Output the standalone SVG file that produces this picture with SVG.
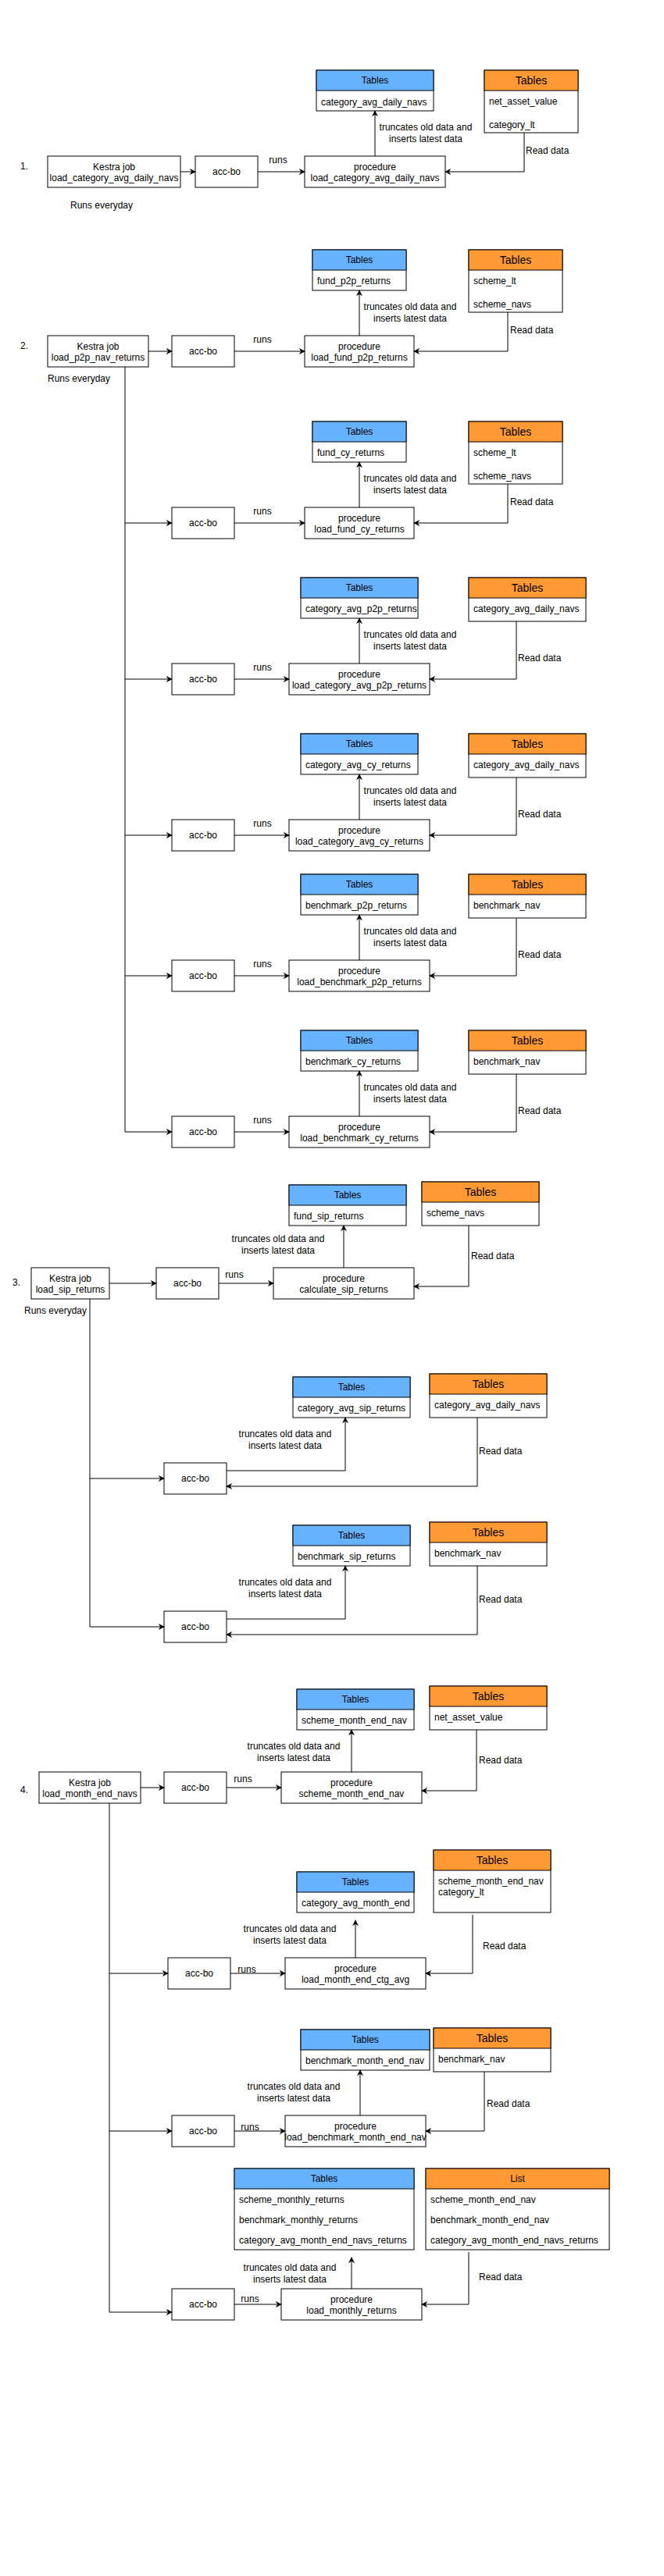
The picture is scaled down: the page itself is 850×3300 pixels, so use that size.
<svg xmlns="http://www.w3.org/2000/svg" width="850" height="3300" viewBox="0 0 850 3300">
<style>
text{font-family:"Liberation Sans",Arial,Helvetica,sans-serif;font-size:12px;fill:#000}
.c{text-anchor:middle}
.h14{font-size:14px}
.box{fill:#fff;stroke:#000;stroke-width:1}
.hb{fill:#66B2FF;stroke:#000;stroke-width:1}
.ho{fill:#FF9933;stroke:#000;stroke-width:1}
.e{fill:none;stroke:#000;stroke-width:1;marker-end:url(#a)}
.t{fill:none;stroke:#000;stroke-width:1}
</style>
<defs>
<marker id="a" viewBox="0 0 10 10" refX="9" refY="5" markerWidth="8" markerHeight="8" orient="auto" markerUnits="userSpaceOnUse"><path d="M0,0 L10,5 L0,10 L3,5 z" fill="#000"/></marker>
<clipPath id="cp1"><rect x="385" y="766" width="150" height="26"/></clipPath>
<clipPath id="cp2"><rect x="380" y="2424" width="150" height="26"/></clipPath>
</defs>
<rect width="850" height="3300" fill="#fff"/>

<g id="labels">
<text x="26" y="217">1.</text>
<text x="130" y="267" class="c">Runs everyday</text>
<text x="26" y="447">2.</text>
<text x="61" y="489">Runs everyday</text>
<text x="16" y="1647">3.</text>
<text x="31" y="1683">Runs everyday</text>
<text x="26" y="2297">4.</text>
</g>

<!-- Section 1 -->
<g id="s1-kestra"><rect class="box" x="61" y="200" width="170" height="40"/><text class="c" x="146" y="217.5">Kestra job</text><text class="c" x="146" y="232">load_category_avg_daily_navs</text></g>
<g id="s1-accbo"><rect class="box" x="250" y="200" width="80" height="40"/><text class="c" x="290" y="224">acc-bo</text></g>
<g id="s1-proc"><rect class="box" x="390" y="200" width="180" height="40"/><text class="c" x="480" y="217.5">procedure</text><text class="c" x="480" y="232">load_category_avg_daily_navs</text></g>
<g id="s1-out"><rect class="box" x="405" y="90" width="150" height="52"/><rect class="hb" x="405" y="90" width="150" height="26"/><text class="c" x="480" y="107">Tables</text><text x="411" y="135">category_avg_daily_navs</text></g>
<g id="s1-in"><rect class="box" x="620" y="90" width="120" height="80"/><rect class="ho" x="620" y="90" width="120" height="26"/><text class="c h14" x="680" y="108">Tables</text><text x="626" y="134">net_asset_value</text><text x="626" y="164">category_lt</text></g>

<!-- Section 2 -->
<g id="s2-kestra"><rect class="box" x="61" y="430" width="129" height="40"/><text class="c" x="125.5" y="447.5">Kestra job</text><text class="c" x="125.5" y="462">load_p2p_nav_returns</text></g>

<g id="s2a-accbo"><rect class="box" x="220" y="430" width="80" height="40"/><text class="c" x="260" y="454">acc-bo</text></g>
<g id="s2a-proc"><rect class="box" x="390" y="430" width="140" height="40"/><text class="c" x="460" y="447.5">procedure</text><text class="c" x="460" y="462">load_fund_p2p_returns</text></g>
<g id="s2a-out"><rect class="box" x="400" y="320" width="120" height="52"/><rect class="hb" x="400" y="320" width="120" height="26"/><text class="c" x="460" y="337">Tables</text><text x="406" y="364">fund_p2p_returns</text></g>
<g id="s2a-in"><rect class="box" x="600" y="320" width="120" height="80"/><rect class="ho" x="600" y="320" width="120" height="26"/><text class="c h14" x="660" y="338">Tables</text><text x="606" y="364">scheme_lt</text><text x="606" y="394">scheme_navs</text></g>

<g id="s2b-accbo"><rect class="box" x="220" y="650" width="80" height="40"/><text class="c" x="260" y="674">acc-bo</text></g>
<g id="s2b-proc"><rect class="box" x="390" y="650" width="140" height="40"/><text class="c" x="460" y="667.5">procedure</text><text class="c" x="460" y="682">load_fund_cy_returns</text></g>
<g id="s2b-out"><rect class="box" x="400" y="540" width="120" height="52"/><rect class="hb" x="400" y="540" width="120" height="26"/><text class="c" x="460" y="557">Tables</text><text x="406" y="584">fund_cy_returns</text></g>
<g id="s2b-in"><rect class="box" x="600" y="540" width="120" height="80"/><rect class="ho" x="600" y="540" width="120" height="26"/><text class="c h14" x="660" y="558">Tables</text><text x="606" y="584">scheme_lt</text><text x="606" y="614">scheme_navs</text></g>

<g id="s2c-accbo"><rect class="box" x="220" y="850" width="80" height="40"/><text class="c" x="260" y="874">acc-bo</text></g>
<g id="s2c-proc"><rect class="box" x="370" y="850" width="180" height="40"/><text class="c" x="460" y="867.5">procedure</text><text class="c" x="460" y="882">load_category_avg_p2p_returns</text></g>
<g id="s2c-out"><rect class="box" x="385" y="740" width="150" height="52"/><rect class="hb" x="385" y="740" width="150" height="26"/><text class="c" x="460" y="757">Tables</text><text x="391" y="784" clip-path="url(#cp1)">category_avg_p2p_returns</text></g>
<g id="s2c-in"><rect class="box" x="600" y="740" width="150" height="56"/><rect class="ho" x="600" y="740" width="150" height="26"/><text class="c h14" x="675" y="758">Tables</text><text x="606" y="784">category_avg_daily_navs</text></g>

<g id="s2d-accbo"><rect class="box" x="220" y="1050" width="80" height="40"/><text class="c" x="260" y="1074">acc-bo</text></g>
<g id="s2d-proc"><rect class="box" x="370" y="1050" width="180" height="40"/><text class="c" x="460" y="1067.5">procedure</text><text class="c" x="460" y="1082">load_category_avg_cy_returns</text></g>
<g id="s2d-out"><rect class="box" x="385" y="940" width="150" height="52"/><rect class="hb" x="385" y="940" width="150" height="26"/><text class="c" x="460" y="957">Tables</text><text x="391" y="984">category_avg_cy_returns</text></g>
<g id="s2d-in"><rect class="box" x="600" y="940" width="150" height="56"/><rect class="ho" x="600" y="940" width="150" height="26"/><text class="c h14" x="675" y="958">Tables</text><text x="606" y="984">category_avg_daily_navs</text></g>

<g id="s2e-accbo"><rect class="box" x="220" y="1230" width="80" height="40"/><text class="c" x="260" y="1254">acc-bo</text></g>
<g id="s2e-proc"><rect class="box" x="370" y="1230" width="180" height="40"/><text class="c" x="460" y="1247.5">procedure</text><text class="c" x="460" y="1262">load_benchmark_p2p_returns</text></g>
<g id="s2e-out"><rect class="box" x="385" y="1120" width="150" height="52"/><rect class="hb" x="385" y="1120" width="150" height="26"/><text class="c" x="460" y="1137">Tables</text><text x="391" y="1164">benchmark_p2p_returns</text></g>
<g id="s2e-in"><rect class="box" x="600" y="1120" width="150" height="56"/><rect class="ho" x="600" y="1120" width="150" height="26"/><text class="c h14" x="675" y="1138">Tables</text><text x="606" y="1164">benchmark_nav</text></g>

<g id="s2f-accbo"><rect class="box" x="220" y="1430" width="80" height="40"/><text class="c" x="260" y="1454">acc-bo</text></g>
<g id="s2f-proc"><rect class="box" x="370" y="1430" width="180" height="40"/><text class="c" x="460" y="1447.5">procedure</text><text class="c" x="460" y="1462">load_benchmark_cy_returns</text></g>
<g id="s2f-out"><rect class="box" x="385" y="1320" width="150" height="52"/><rect class="hb" x="385" y="1320" width="150" height="26"/><text class="c" x="460" y="1337">Tables</text><text x="391" y="1364">benchmark_cy_returns</text></g>
<g id="s2f-in"><rect class="box" x="600" y="1320" width="150" height="56"/><rect class="ho" x="600" y="1320" width="150" height="26"/><text class="c h14" x="675" y="1338">Tables</text><text x="606" y="1364">benchmark_nav</text></g>

<!-- Section 3 -->
<g id="s3-kestra"><rect class="box" x="40" y="1624" width="100" height="40"/><text class="c" x="90" y="1641.5">Kestra job</text><text class="c" x="90" y="1656">load_sip_returns</text></g>
<g id="s3a-accbo"><rect class="box" x="200" y="1624" width="80" height="40"/><text class="c" x="240" y="1648">acc-bo</text></g>
<g id="s3a-proc"><rect class="box" x="350" y="1624" width="180" height="40"/><text class="c" x="440" y="1641.5">procedure</text><text class="c" x="440" y="1656">calculate_sip_returns</text></g>
<g id="s3a-out"><rect class="box" x="370" y="1518" width="150" height="52"/><rect class="hb" x="370" y="1518" width="150" height="26"/><text class="c" x="445" y="1535">Tables</text><text x="376" y="1562">fund_sip_returns</text></g>
<g id="s3a-in"><rect class="box" x="540" y="1514" width="150" height="56"/><rect class="ho" x="540" y="1514" width="150" height="26"/><text class="c h14" x="615" y="1532">Tables</text><text x="546" y="1558">scheme_navs</text></g>

<g id="s3b-accbo"><rect class="box" x="210" y="1874" width="80" height="40"/><text class="c" x="250" y="1898">acc-bo</text></g>
<g id="s3b-out"><rect class="box" x="375" y="1764" width="150" height="52"/><rect class="hb" x="375" y="1764" width="150" height="26"/><text class="c" x="450" y="1781">Tables</text><text x="381" y="1808">category_avg_sip_returns</text></g>
<g id="s3b-in"><rect class="box" x="550" y="1760" width="150" height="56"/><rect class="ho" x="550" y="1760" width="150" height="26"/><text class="c h14" x="625" y="1778">Tables</text><text x="556" y="1804">category_avg_daily_navs</text></g>

<g id="s3c-accbo"><rect class="box" x="210" y="2064" width="80" height="40"/><text class="c" x="250" y="2088">acc-bo</text></g>
<g id="s3c-out"><rect class="box" x="375" y="1954" width="150" height="52"/><rect class="hb" x="375" y="1954" width="150" height="26"/><text class="c" x="450" y="1971">Tables</text><text x="381" y="1998">benchmark_sip_returns</text></g>
<g id="s3c-in"><rect class="box" x="550" y="1950" width="150" height="56"/><rect class="ho" x="550" y="1950" width="150" height="26"/><text class="c h14" x="625" y="1968">Tables</text><text x="556" y="1994">benchmark_nav</text></g>

<!-- Section 4 -->
<g id="s4-kestra"><rect class="box" x="50" y="2270" width="130" height="40"/><text class="c" x="115" y="2287.5">Kestra job</text><text class="c" x="115" y="2302">load_month_end_navs</text></g>
<g id="s4a-accbo"><rect class="box" x="210" y="2270" width="80" height="40"/><text class="c" x="250" y="2294">acc-bo</text></g>
<g id="s4a-proc"><rect class="box" x="360" y="2270" width="180" height="40"/><text class="c" x="450" y="2287.5">procedure</text><text class="c" x="450" y="2302">scheme_month_end_nav</text></g>
<g id="s4a-out"><rect class="box" x="380" y="2164" width="150" height="52"/><rect class="hb" x="380" y="2164" width="150" height="26"/><text class="c" x="455" y="2181">Tables</text><text x="386" y="2208">scheme_month_end_nav</text></g>
<g id="s4a-in"><rect class="box" x="550" y="2160" width="150" height="56"/><rect class="ho" x="550" y="2160" width="150" height="26"/><text class="c h14" x="625" y="2178">Tables</text><text x="556" y="2204">net_asset_value</text></g>

<g id="s4b-accbo"><rect class="box" x="215" y="2508" width="80" height="40"/><text class="c" x="255" y="2532">acc-bo</text></g>
<g id="s4b-proc"><rect class="box" x="365" y="2508" width="180" height="40"/><text class="c" x="455" y="2525.5">procedure</text><text class="c" x="455" y="2540">load_month_end_ctg_avg</text></g>
<g id="s4b-out"><rect class="box" x="380" y="2398" width="150" height="52"/><rect class="hb" x="380" y="2398" width="150" height="26"/><text class="c" x="455" y="2415">Tables</text><text x="386" y="2442" clip-path="url(#cp2)">category_avg_month_end</text></g>
<g id="s4b-in"><rect class="box" x="555" y="2370" width="150" height="80"/><rect class="ho" x="555" y="2370" width="150" height="26"/><text class="c h14" x="630" y="2388">Tables</text><text x="561" y="2414">scheme_month_end_nav</text><text x="561" y="2428">category_lt</text></g>

<g id="s4c-accbo"><rect class="box" x="220" y="2710" width="80" height="40"/><text class="c" x="260" y="2734">acc-bo</text></g>
<g id="s4c-proc"><rect class="box" x="365" y="2710" width="180" height="40"/><text class="c" x="455" y="2727.5">procedure</text><text class="c" x="455" y="2742">load_benchmark_month_end_nav</text></g>
<g id="s4c-out"><rect class="box" x="385" y="2600" width="165" height="52"/><rect class="hb" x="385" y="2600" width="165" height="26"/><text class="c" x="467.5" y="2617">Tables</text><text x="391" y="2644">benchmark_month_end_nav</text></g>
<g id="s4c-in"><rect class="box" x="555" y="2598" width="150" height="56"/><rect class="ho" x="555" y="2598" width="150" height="26"/><text class="c h14" x="630" y="2616">Tables</text><text x="561" y="2642">benchmark_nav</text></g>

<g id="s4d-accbo"><rect class="box" x="220" y="2932" width="80" height="40"/><text class="c" x="260" y="2956">acc-bo</text></g>
<g id="s4d-proc"><rect class="box" x="360" y="2932" width="180" height="40"/><text class="c" x="450" y="2949.5">procedure</text><text class="c" x="450" y="2964">load_monthly_returns</text></g>
<g id="s4d-out"><rect class="box" x="300" y="2778" width="230" height="104"/><rect class="hb" x="300" y="2778" width="230" height="26"/><text class="c" x="415" y="2795">Tables</text><text x="306" y="2822">scheme_monthly_returns</text><text x="306" y="2848">benchmark_monthly_returns</text><text x="306" y="2874">category_avg_month_end_navs_returns</text></g>
<g id="s4d-in"><rect class="box" x="545" y="2778" width="235" height="104"/><rect class="ho" x="545" y="2778" width="235" height="26"/><text class="c" x="662.5" y="2795">List</text><text x="551" y="2822">scheme_month_end_nav</text><text x="551" y="2848">benchmark_month_end_nav</text><text x="551" y="2874">category_avg_month_end_navs_returns</text></g>

<g id="connectors">
<!-- s1 -->
<path class="e" d="M231,220 H250"/>
<path class="e" d="M330,220 H390"/>
<path class="e" d="M480,200 V142"/>
<path class="e" d="M671,170 V220 H570"/>
<!-- s2 -->
<path class="t" d="M160,470 V1450"/>
<path class="e" d="M190,450 H220"/>
<path class="e" d="M300,450 H390"/>
<path class="e" d="M460,430 V372"/>
<path class="e" d="M650,400 V450 H530"/>
<path class="e" d="M160,670 H220"/>
<path class="e" d="M300,670 H390"/>
<path class="e" d="M460,650 V592"/>
<path class="e" d="M650,620 V670 H530"/>
<path class="e" d="M160,870 H220"/>
<path class="e" d="M300,870 H370"/>
<path class="e" d="M460,850 V792"/>
<path class="e" d="M661,796 V870 H550"/>
<path class="e" d="M160,1070 H220"/>
<path class="e" d="M300,1070 H370"/>
<path class="e" d="M460,1050 V992"/>
<path class="e" d="M661,996 V1070 H550"/>
<path class="e" d="M160,1250 H220"/>
<path class="e" d="M300,1250 H370"/>
<path class="e" d="M460,1230 V1172"/>
<path class="e" d="M661,1176 V1250 H550"/>
<path class="e" d="M160,1450 H220"/>
<path class="e" d="M300,1450 H370"/>
<path class="e" d="M460,1430 V1372"/>
<path class="e" d="M661,1376 V1450 H550"/>
<!-- s3 -->
<path class="t" d="M115,1664 V2084"/>
<path class="e" d="M140,1644 H200"/>
<path class="e" d="M280,1644 H350"/>
<path class="e" d="M440,1624 V1570"/>
<path class="e" d="M600,1570 V1648 H530"/>
<path class="e" d="M115,1894 H210"/>
<path class="e" d="M290,1884 H442 V1816"/>
<path class="e" d="M611,1816 V1904 H290"/>
<path class="e" d="M115,2084 H210"/>
<path class="e" d="M290,2074 H442 V2006"/>
<path class="e" d="M611,2006 V2094 H290"/>
<!-- s4 -->
<path class="t" d="M140,2310 V2962"/>
<path class="e" d="M180,2290 H210"/>
<path class="e" d="M290,2290 H360"/>
<path class="e" d="M450,2270 V2216"/>
<path class="e" d="M610,2216 V2294 H540"/>
<path class="e" d="M140,2528 H215"/>
<path class="e" d="M295,2528 H365"/>
<path class="e" d="M455,2508 V2460"/>
<path class="e" d="M605,2453 V2528 H545"/>
<path class="e" d="M140,2730 H220"/>
<path class="e" d="M300,2730 H365"/>
<path class="e" d="M461,2710 V2652"/>
<path class="e" d="M620,2654 V2730 H545"/>
<path class="e" d="M140,2962 H220"/>
<path class="e" d="M300,2952 H360"/>
<path class="e" d="M450,2932 V2892"/>
<path class="e" d="M600,2885 V2952 H540"/>

<!-- edge labels -->
<text class="c" x="356" y="209">runs</text>
<text class="c" x="545" y="167">truncates old data and</text><text class="c" x="545" y="182">inserts latest data</text>
<text x="673" y="197">Read data</text>

<text class="c" x="336" y="439">runs</text>
<text class="c" x="525" y="397">truncates old data and</text><text class="c" x="525" y="412">inserts latest data</text>
<text x="653" y="427">Read data</text>
<text class="c" x="336" y="659">runs</text>
<text class="c" x="525" y="617">truncates old data and</text><text class="c" x="525" y="632">inserts latest data</text>
<text x="653" y="647">Read data</text>
<text class="c" x="336" y="859">runs</text>
<text class="c" x="525" y="817">truncates old data and</text><text class="c" x="525" y="832">inserts latest data</text>
<text x="663" y="847">Read data</text>
<text class="c" x="336" y="1059">runs</text>
<text class="c" x="525" y="1017">truncates old data and</text><text class="c" x="525" y="1032">inserts latest data</text>
<text x="663" y="1047">Read data</text>
<text class="c" x="336" y="1239">runs</text>
<text class="c" x="525" y="1197">truncates old data and</text><text class="c" x="525" y="1212">inserts latest data</text>
<text x="663" y="1227">Read data</text>
<text class="c" x="336" y="1439">runs</text>
<text class="c" x="525" y="1397">truncates old data and</text><text class="c" x="525" y="1412">inserts latest data</text>
<text x="663" y="1427">Read data</text>

<text class="c" x="300" y="1637">runs</text>
<text class="c" x="356" y="1591">truncates old data and</text><text class="c" x="356" y="1606">inserts latest data</text>
<text x="603" y="1613">Read data</text>
<text class="c" x="365" y="1841">truncates old data and</text><text class="c" x="365" y="1856">inserts latest data</text>
<text x="613" y="1863">Read data</text>
<text class="c" x="365" y="2031">truncates old data and</text><text class="c" x="365" y="2046">inserts latest data</text>
<text x="613" y="2053">Read data</text>

<text class="c" x="311" y="2283">runs</text>
<text class="c" x="376" y="2241">truncates old data and</text><text class="c" x="376" y="2256">inserts latest data</text>
<text x="613" y="2259">Read data</text>
<text class="c" x="316" y="2527">runs</text>
<text class="c" x="371" y="2475">truncates old data and</text><text class="c" x="371" y="2490">inserts latest data</text>
<text x="618" y="2497">Read data</text>
<text class="c" x="320" y="2729">runs</text>
<text class="c" x="376" y="2677">truncates old data and</text><text class="c" x="376" y="2692">inserts latest data</text>
<text x="623" y="2699">Read data</text>
<text class="c" x="320" y="2949">runs</text>
<text class="c" x="371" y="2909">truncates old data and</text><text class="c" x="371" y="2924">inserts latest data</text>
<text x="613" y="2921">Read data</text>
</g>
</svg>
